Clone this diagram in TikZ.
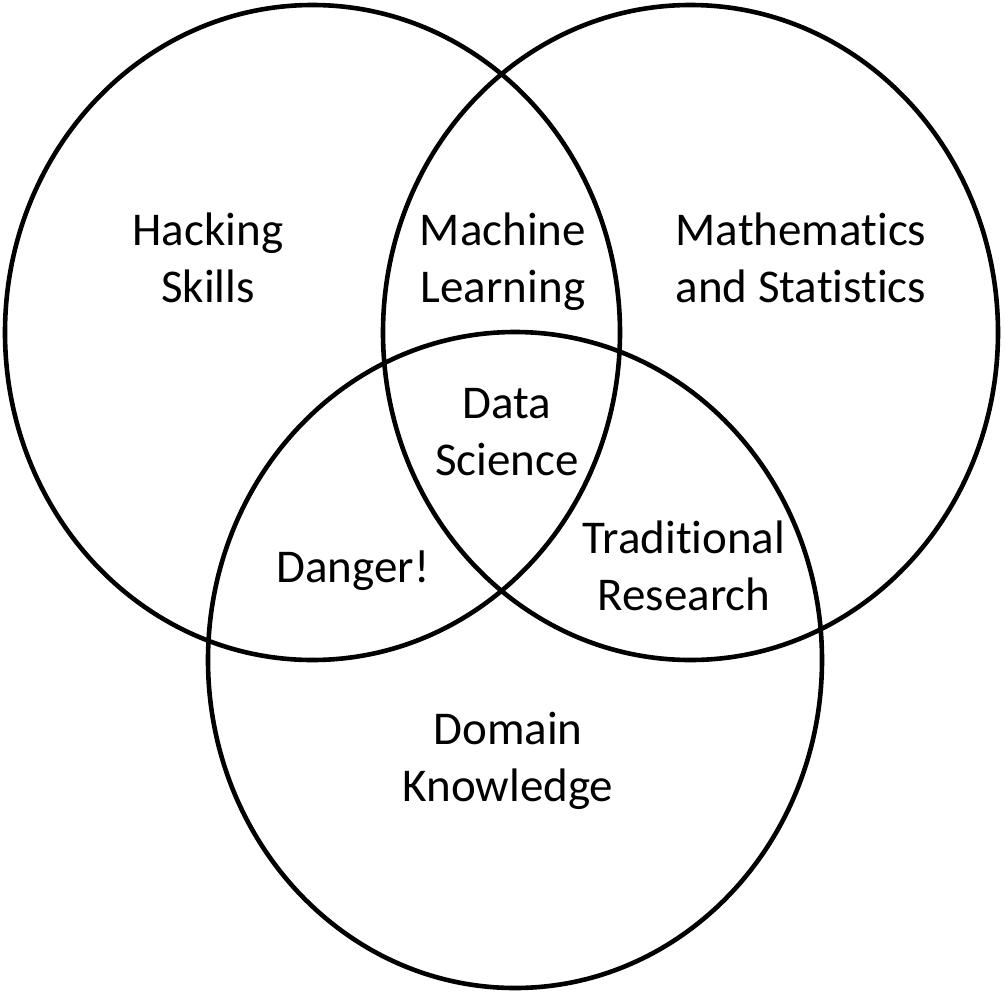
\documentclass[tikz,border=0pt]{standalone}
\usepackage{fontspec}
\setmainfont{Carlito}[Ligatures={NoCommon}]
\begin{document}
\begin{tikzpicture}[x=1pt,y=-1pt,
  ring/.style={draw=black,line width=4.6pt},
  lbl/.style={font=\fontsize{47}{57}\selectfont,align=center,inner sep=0pt,anchor=base}]
\useasboundingbox[fill=white] (0,0) rectangle (1005,994);
\draw[ring] (312.5,332.5) ellipse [x radius=307.5pt, y radius=327.5pt];
\draw[ring] (690.5,332.5) ellipse [x radius=307.5pt, y radius=327.5pt];
\draw[ring] (515,660) ellipse [x radius=307pt, y radius=328pt];
\node[lbl] (hack) at (208,302) {Hacking\\Skills};
\node[lbl] (ml) at (503,302) {Machine\\Learning};
\node[lbl] (math) at (801,302) {Mathematics\\and Statistics};
\node[lbl] (ds) at (507,475) {Data\\Science};
\node[lbl] (danger) at (353,582) {Danger!};
\node[lbl] (trad) at (684,610) {Traditional\\Research};
\node[lbl] (dom) at (508,801) {Domain\\Knowledge};
\end{tikzpicture}
\end{document}
